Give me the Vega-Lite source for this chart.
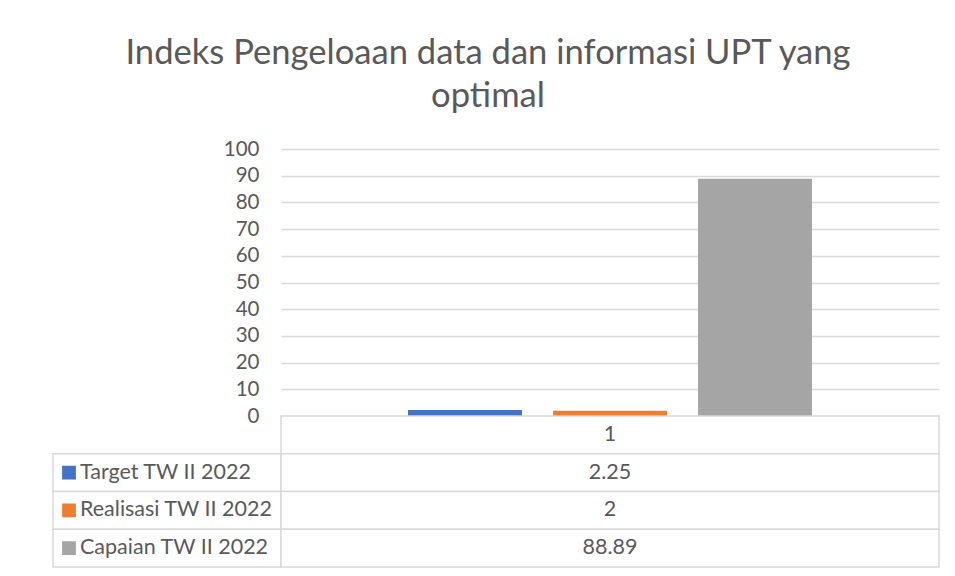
{
  "$schema": "https://vega.github.io/schema/vega-lite/v6.json",
  "padding": {"left": 52, "top": 36, "right": 17, "bottom": 9},
  "background": "white",
  "title": {
    "text": ["Indeks Pengeloaan data dan informasi UPT yang", "optimal"],
    "fontSize": 34.6,
    "fontWeight": "normal",
    "font": "Lato",
    "color": "#595959",
    "lineHeight": 43,
    "anchor": "middle",
    "dx": -8,
    "offset": 24
  },
  "data": {
    "values": [
      {"category": "1", "series": "Target TW II 2022", "value": 2.25},
      {"category": "1", "series": "Realisasi TW II 2022", "value": 2},
      {"category": "1", "series": "Capaian TW II 2022", "value": 88.89}
    ]
  },
  "columns": 2,
  "spacing": 0,
  "bounds": "flush",
  "concat": [
    {
      "width": 228,
      "height": 267,
      "mark": {"type": "text"},
      "encoding": {"text": {"value": ""}}
    },
    {
      "width": 658,
      "height": 267,
      "mark": {"type": "bar"},
      "encoding": {
        "x": {"field": "category", "type": "nominal", "axis": null, "scale": {"paddingInner": 0, "paddingOuter": 0.3144}},
        "xOffset": {"field": "series", "type": "nominal", "sort": ["Target TW II 2022", "Realisasi TW II 2022", "Capaian TW II 2022"], "scale": {"paddingInner": 0.214, "paddingOuter": 0}},
        "y": {
          "field": "value", "type": "quantitative",
          "scale": {"domain": [0, 100]},
          "axis": {"values": [0, 10, 20, 30, 40, 50, 60, 70, 80, 90, 100], "title": null, "grid": true, "gridColor": "#D9D9D9", "gridWidth": 1.5, "domain": false, "ticks": false, "labelPadding": 22, "labelFontSize": 20.5, "labelColor": "#595959"}
        },
        "color": {
          "field": "series", "type": "nominal",
          "scale": {"domain": ["Target TW II 2022", "Realisasi TW II 2022", "Capaian TW II 2022"], "range": ["#4472C4", "#ED7D31", "#A5A5A5"]},
          "legend": null
        }
      }
    },
    {
      "width": 228,
      "height": 151,
      "encoding": {
        "y": {"field": "series", "type": "nominal", "axis": null, "scale": {"domain": ["1", "Target TW II 2022", "Realisasi TW II 2022", "Capaian TW II 2022"], "paddingInner": 0, "paddingOuter": 0}}
      },
      "layer": [
        {"mark": {"type": "rect", "fill": "white", "stroke": "#D9D9D9", "strokeWidth": 1.5}},
        {
          "mark": {"type": "point", "shape": "square", "filled": true, "size": 190, "opacity": 1},
          "encoding": {
            "x": {"value": 16},
            "color": {"field": "series", "type": "nominal", "scale": {"domain": ["Target TW II 2022", "Realisasi TW II 2022", "Capaian TW II 2022"], "range": ["#4472C4", "#ED7D31", "#A5A5A5"]}, "legend": null}
          }
        },
        {
          "mark": {"type": "text", "align": "left", "fontSize": 21.5, "color": "#595959"},
          "encoding": {"x": {"value": 27}, "text": {"field": "series"}}
        }
      ]
    },
    {
      "width": 658,
      "height": 151,
      "layer": [
        {
          "transform": [{"aggregate": [{"op": "count", "as": "n"}], "groupby": ["category"]}],
          "layer": [
            {"mark": {"type": "rect", "fill": "white", "stroke": "#D9D9D9", "strokeWidth": 1.5}},
            {"mark": {"type": "text", "fontSize": 21.5, "color": "#595959"}, "encoding": {"text": {"field": "category"}}}
          ],
          "encoding": {
            "y": {"field": "category", "type": "nominal", "axis": null, "scale": {"domain": ["1", "Target TW II 2022", "Realisasi TW II 2022", "Capaian TW II 2022"], "paddingInner": 0, "paddingOuter": 0}}
          }
        },
        {
          "layer": [
            {"mark": {"type": "rect", "fill": "white", "stroke": "#D9D9D9", "strokeWidth": 1.5}},
            {"mark": {"type": "text", "fontSize": 21.5, "color": "#595959"}, "encoding": {"text": {"field": "value", "type": "nominal"}}}
          ],
          "encoding": {
            "y": {"field": "series", "type": "nominal", "axis": null}
          }
        }
      ]
    }
  ],
  "config": {
    "font": "Lato",
    "view": {"stroke": null}
  }
}
